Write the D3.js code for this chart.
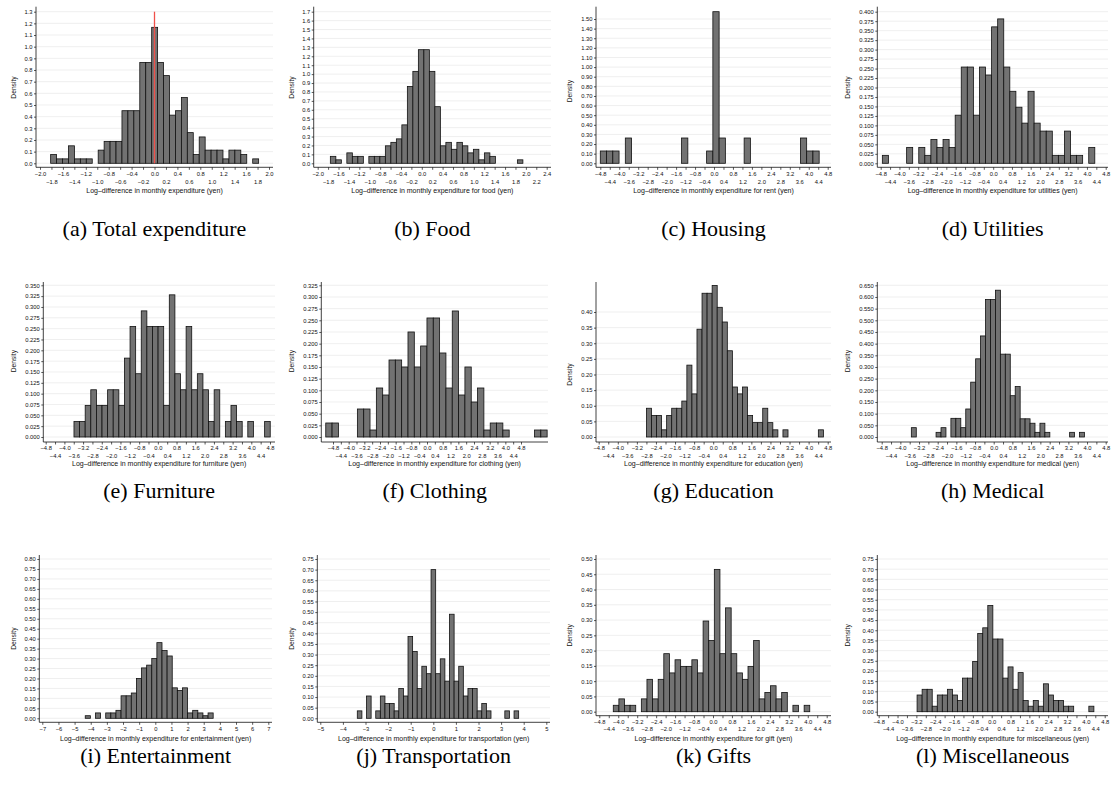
<!DOCTYPE html>
<html>
<head>
<meta charset="utf-8">
<script src="https://cdn.jsdelivr.net/npm/d3@7"></script>
<style>
  body { margin: 0; background: #fff; }
</style>
</head>
<body>
<svg id="chart" width="1111" height="792"></svg>
<script>
// densities per bin
const totalH = [0.075,0.038,0.038,0.150,0.038,0.038,0.038,0,0.113,0.188,0.188,0.188,0.451,0.451,0.451,0.865,0.865,1.166,0.865,0.752,0.413,0.451,0.564,0.263,0.075,0.226,0.113,0.113,0.113,0.038,0.113,0.113,0.075,0,0.038];
const foodH = [0.078,0.039,0,0.117,0.078,0.078,0,0.078,0.078,0.078,0.196,0.235,0.274,0.431,0.862,1.031,1.274,1.274,1.031,0.635,0.196,0.235,0.157,0.235,0.196,0.117,0.157,0.039,0.117,0.078,0,0,0,0,0.039];
const rentH = [0.128,0.128,0.128,0,0.263,0,0,0,0,0,0,0,0,0.263,0,0,0,0.128,1.576,0.263,0,0,0,0.263,0,0,0,0,0,0,0,0,0.263,0.128,0.128];
const utilH = [0.021,0,0,0,0.042,0,0.042,0.021,0.063,0.042,0.063,0.042,0.127,0.254,0.254,0.127,0.254,0.233,0.360,0.381,0.254,0.190,0.148,0.106,0.190,0.106,0.085,0.085,0.021,0.021,0.085,0.021,0.021,0,0.042];
const furnH = [0.036,0.036,0.073,0.109,0.073,0.073,0.109,0.109,0.073,0.182,0.255,0.146,0.291,0.255,0.255,0.255,0.073,0.328,0.146,0.109,0.255,0.109,0.146,0.109,0.036,0.109,0,0.036,0.073,0.036,0,0.036,0,0,0.036];
const clothH = [0.030,0.030,0,0,0,0.060,0.060,0.015,0.105,0.090,0.165,0.165,0.150,0.225,0.150,0.195,0.255,0.255,0.180,0.105,0.270,0.090,0.150,0.075,0.105,0.015,0.030,0.030,0.015,0,0,0,0,0.015,0.015];
const eduH = [0.092,0.069,0.069,0.023,0.069,0.092,0.092,0.115,0.230,0.138,0.345,0.460,0.460,0.485,0.415,0.368,0.276,0.160,0.138,0.160,0.069,0.046,0.046,0.092,0.046,0.023,0,0.023,0,0,0,0,0,0,0.023];
const medH = [0.040,0,0,0,0,0.020,0.040,0,0.080,0.080,0.040,0.120,0.235,0.335,0.433,0.589,0.589,0.629,0.355,0.355,0.177,0.216,0.078,0.078,0.059,0.020,0.059,0.020,0,0,0,0,0.020,0,0.020];
const entH = [0.013,0,0.027,0,0.027,0.027,0.040,0.113,0.113,0.127,0.200,0.253,0.267,0.300,0.380,0.340,0.313,0.153,0.140,0.153,0.027,0.040,0.027,0.013,0.027];
const transH = [0.035,0,0.105,0,0.035,0.105,0.070,0.070,0.035,0.140,0.105,0.385,0.315,0.140,0.245,0.210,0.700,0.210,0.280,0.175,0.490,0.175,0.245,0.105,0.140,0.140,0.035,0.070,0.035,0,0,0,0.035,0,0.035];
const giftH = [0.021,0.042,0.021,0.021,0,0.042,0.106,0.042,0.106,0.190,0.127,0.170,0.148,0.148,0.170,0.127,0.297,0.233,0.466,0.190,0.340,0.190,0.127,0.106,0.148,0.233,0.042,0.063,0.085,0.042,0.063,0,0.021,0,0.021];
const miscH = [0.082,0.110,0.110,0.027,0.082,0.082,0.110,0.082,0.055,0.165,0.165,0.247,0.384,0.412,0.522,0.357,0.357,0.165,0.220,0.110,0.192,0.055,0.027,0.055,0.027,0.137,0.082,0.055,0.055,0.027,0.027,0,0,0,0.027];

const heights = [totalH, foodH, rentH, utilH, furnH, clothH, eduH, medH, entH, transH, giftH, miscH];

// first bin edge and bin width
const binStarts = [-1.814, -1.757, -4.80, -4.73, -3.59, -5.17, -2.80, -3.53, -4.34, -3.363, -4.21, -3.17];
const binWidths = [0.1038, 0.1057, 0.264, 0.259, 0.240, 0.323, 0.212, 0.212, 0.317, 0.204, 0.237, 0.2146];

// axis ticks
const yTickMax = [1.3, 1.7, 1.5, 0.4, 0.35, 0.325, 0.4, 0.65, 0.8, 0.75, 0.5, 0.75];
const yTickStep = [0.1, 0.1, 0.1, 0.025, 0.025, 0.025, 0.05, 0.05, 0.05, 0.05, 0.05, 0.05];
const yDigits = [1, 1, 2, 3, 3, 3, 2, 3, 2, 2, 2, 2];
const xTickMin = [-2, -2, -4.8, -4.8, -4.8, -4.8, -4.8, -4.8, -7, -5, -4.8, -4.8];
const xTickMax = [2, 2.4, 4.8, 4.8, 4.8, 4.8, 4.8, 4.8, 7, 5, 4.8, 4.8];
const xTickStep = [0.2, 0.2, 0.4, 0.4, 0.4, 0.4, 0.4, 0.4, 1, 1, 0.4, 0.4];
const xDigits = [1, 1, 1, 1, 1, 1, 1, 1, 0, 0, 1, 1];

const xTitles = ["", " for food", " for rent", " for utilities", " for furniture", " for clothing",
  " for education", " for medical", " for entertainment", " for transportation", " for gift", " for miscellaneous"]
  .map(s => "Log\u2013difference in monthly expenditure" + s + " (yen)");
const captions = ["(a) Total expenditure", "(b) Food", "(c) Housing", "(d) Utilities", "(e) Furniture",
  "(f) Clothing", "(g) Education", "(h) Medical", "(i) Entertainment", "(j) Transportation", "(k) Gifts", "(l) Miscellaneous"];

// panel boxes on the page
const r1 = {top: 6.7, base: 167.3, y0: 163.3, row1: 176.5, row2: 184.5, tt: 193, cap: 236};
const r2 = {top: 282, base: 442, y0: 437, row1: 449.5, row2: 457.5, tt: 466, cap: 498};
const r3a = {top: 555, base: 722.3, y0: 718.3, row1: 731.5, row2: null, tt: 740.5, cap: 763};
const r3b = {top: 555, base: 715.7, y0: 711.7, row1: 724, row2: 731.5, tt: 740.5, cap: 763};
const boxes = [
  {...r1, ax: 36, rt: 273, xa: 40, xb: 269, yt: 11.7},
  {...r1, ax: 313.7, rt: 551, xa: 317.7, xb: 546.7, yt: 11.7},
  {...r1, ax: 596, rt: 831, xa: 600.3, xb: 827.7, yt: 19},
  {...r1, ax: 877.3, rt: 1108, xa: 880.7, xb: 1105.7, yt: 11.7},
  {...r2, ax: 43.3, rt: 275, xa: 45.7, xb: 270, yt: 285.3},
  {...r2, ax: 321.3, rt: 548, xa: 333, xb: 521, yt: 285.3},
  {...r2, ax: 596, rt: 831, xa: 598.7, xb: 827.7, yt: 312},
  {...r2, ax: 877.3, rt: 1108, xa: 881.7, xb: 1105.7, yt: 285.3},
  {...r3a, ax: 39.3, rt: 272, xa: 42.3, xb: 268.3, yt: 559},
  {...r3a, ax: 317.3, rt: 550, xa: 320.3, xb: 546.3, yt: 559},
  {...r3b, ax: 596, rt: 831, xa: 599.3, xb: 826.7, yt: 559},
  {...r3b, ax: 877.3, rt: 1108, xa: 878.7, xb: 1104.7, yt: 559}
];
const colX = [0, 278, 556, 834];

const svg = d3.select("#chart");
const sans = "'Liberation Sans', Arial, Helvetica, sans-serif";

heights.forEach((h, i) => {
  const b = boxes[i];
  const g = svg.append("g");

  const x = d3.scaleLinear().domain([xTickMin[i], xTickMax[i]]).range([b.xa, b.xb]);
  const y = d3.scaleLinear().domain([0, yTickMax[i]]).range([b.y0, b.yt]);

  const nY = Math.round(yTickMax[i] / yTickStep[i]);
  const yTicks = d3.range(nY + 1).map(k => +(k * yTickStep[i]).toFixed(6));
  const nX = Math.round((xTickMax[i] - xTickMin[i]) / xTickStep[i]);
  const xTicks = d3.range(nX + 1).map(k => +(xTickMin[i] + k * xTickStep[i]).toFixed(6));

  // grid lines
  g.append("g").selectAll("line").data(yTicks).join("line")
    .attr("x1", b.ax).attr("x2", b.rt)
    .attr("y1", d => y(d)).attr("y2", d => y(d))
    .attr("stroke", "#e8e8e8").attr("stroke-width", 0.7);

  // bars
  const bins = h.map((v, k) => ({v, x0: binStarts[i] + k * binWidths[i]})).filter(d => d.v > 0);
  g.append("g").selectAll("rect").data(bins).join("rect")
    .attr("x", d => x(d.x0))
    .attr("width", d => x(d.x0 + binWidths[i]) - x(d.x0))
    .attr("y", d => y(d.v))
    .attr("height", d => y(0) - y(d.v))
    .attr("fill", "#727272")
    .attr("stroke", "#111")
    .attr("stroke-width", 0.8);

  // red reference line at zero for total expenditure
  if (i === 0) {
    g.append("line")
      .attr("x1", x(0)).attr("x2", x(0))
      .attr("y1", y(0)).attr("y2", y(yTickMax[i]))
      .attr("stroke", "#f0504a").attr("stroke-width", 1.3);
  }

  // y axis
  const yAxis = g.append("g")
    .attr("transform", `translate(${b.ax},0)`)
    .call(d3.axisLeft(y).tickValues(yTicks).tickSize(2).tickPadding(1.5)
      .tickFormat(d3.format(`.${yDigits[i]}f`)));
  yAxis.select(".domain").remove();
  yAxis.selectAll("line").attr("stroke", "#111").attr("stroke-width", 0.7);
  yAxis.selectAll("text").attr("font-size", 5.8).attr("font-family", sans).attr("fill", "#111");
  g.append("line")
    .attr("x1", b.ax).attr("x2", b.ax).attr("y1", b.top).attr("y2", b.base)
    .attr("stroke", "#111").attr("stroke-width", 0.8);

  // x axis
  const xAxis = g.append("g")
    .attr("transform", `translate(0,${b.base})`)
    .call(d3.axisBottom(x).tickValues(xTicks).tickSize(2.5)
      .tickFormat(d3.format(`.${xDigits[i]}f`)));
  xAxis.select(".domain").remove();
  xAxis.selectAll("line").attr("stroke", "#111").attr("stroke-width", 0.7);
  xAxis.selectAll("text")
    .attr("font-size", 5.8).attr("font-family", sans).attr("fill", "#111")
    .attr("dy", null)
    .attr("y", (d, k) => (b.row2 !== null && k % 2 === 1 ? b.row2 : b.row1) - b.base);
  g.append("line")
    .attr("x1", b.ax).attr("x2", b.rt).attr("y1", b.base).attr("y2", b.base)
    .attr("stroke", "#111").attr("stroke-width", 0.8);

  // axis titles
  g.append("text")
    .attr("x", (b.ax + b.rt) / 2).attr("y", b.tt)
    .attr("text-anchor", "middle")
    .attr("font-family", sans).attr("font-size", 7).attr("fill", "#111")
    .text(xTitles[i]);

  g.append("text")
    .attr("transform", `translate(${colX[i % 4] + 15.5},${(b.yt + b.y0) / 2}) rotate(-90)`)
    .attr("text-anchor", "middle")
    .attr("font-family", sans).attr("font-size", 6.7).attr("fill", "#111")
    .text("Density");

  // caption
  svg.append("text")
    .attr("x", (b.ax + b.rt) / 2).attr("y", b.cap)
    .attr("text-anchor", "middle")
    .attr("font-family", "'Liberation Serif', 'DejaVu Serif', serif")
    .attr("font-size", 22)
    .attr("fill", "#000")
    .text(captions[i]);
});
</script>
</body>
</html>
